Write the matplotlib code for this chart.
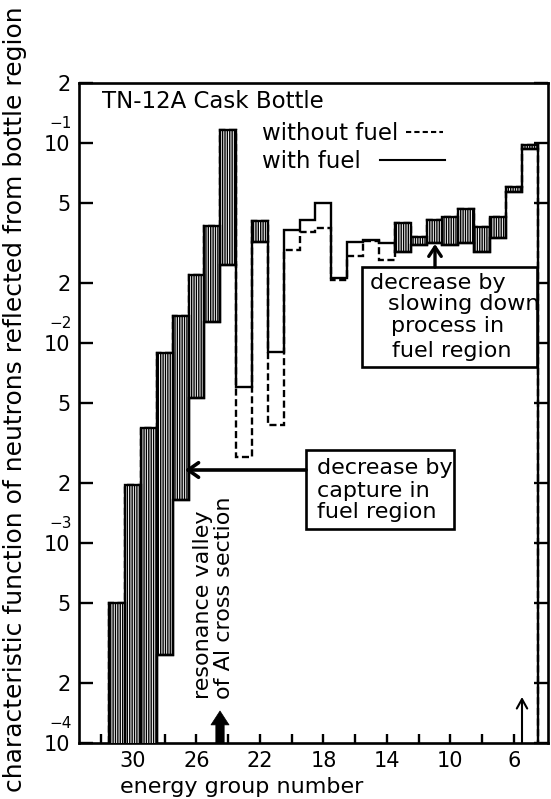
import matplotlib
matplotlib.use('Agg')
import matplotlib.pyplot as plt
import numpy as np
from matplotlib.patches import Rectangle, FancyArrowPatch
from matplotlib.lines import Line2D

# ---------------- data ----------------
groups = list(range(31, 4, -1))          # energy groups 31 ... 5
without_fuel = [5.0e-4, 1.95e-3, 3.75e-3, 8.9e-3, 1.37e-2, 2.2e-2, 3.85e-2, 0.116,
                2.7e-3, 0.0407, 3.9e-3, 0.0292, 0.036, 0.0375, 0.0207, 0.0272,
                0.0324, 0.026, 0.0397, 0.0338, 0.0415, 0.0428, 0.0466, 0.0382,
                0.0425, 0.0605, 0.0977]
with_fuel = [5e-5, 5e-5, 5e-5, 2.75e-4, 1.64e-3, 5.3e-3, 1.27e-2, 2.45e-2,
             6.0e-3, 0.0321, 9.0e-3, 0.0367, 0.0412, 0.05, 0.0211, 0.0321,
             0.0327, 0.0316, 0.0286, 0.0309, 0.0315, 0.0309, 0.0315, 0.0286,
             0.0334, 0.0571, 0.0933]
y_ticks = [1e-4, 2e-4, 5e-4, 1e-3, 2e-3, 5e-3, 1e-2, 2e-2, 5e-2, 1e-1, 2e-1]
y_ticklabels = ['10', '2', '5', '10', '2', '5', '10', '2', '5', '10', '2']
decade_ticks = [1e-4, 1e-3, 1e-2, 1e-1]
decade_exponents = ['−4', '−3', '−2', '−1']
x_ticks = list(range(6, 33, 2))
x_labeled = [30, 26, 22, 18, 14, 10, 6]
x_long_ticks = [10, 20, 30]

plt.rcParams['font.family'] = ['DejaVu Sans']
plt.rcParams['hatch.linewidth'] = 1.0

fig = plt.figure(figsize=(5.51, 7.99), dpi=100)
ax = fig.add_axes([79/551, 1-743/799, (548-79)/551, (743-83)/799])
ax.set_yscale('log')
ax.set_xlim(33.4, 3.85)
ax.set_ylim(1e-4, 2e-1)

g_asc = np.array(groups[::-1])
w_asc = np.array(without_fuel[::-1])
f_asc = np.array(with_fuel[::-1])
edges = np.arange(g_asc.min() - 0.5, g_asc.max() + 1.0, 1.0)

LW = 1.7
# without fuel (dashed)
ax.stairs(w_asc, edges, baseline=1e-6, color='black', lw=LW,
          linestyle=(0, (3.0, 1.5)), zorder=2)
# hatched difference where without > with
mask = w_asc > f_asc
ax.bar(g_asc[mask], (w_asc - f_asc)[mask], bottom=f_asc[mask], width=1.0,
       facecolor='white', edgecolor='black', linewidth=LW, hatch='|||||||',
       zorder=3)
# with fuel (solid)
ax.stairs(f_asc, edges, baseline=1e-6, color='black', lw=LW, zorder=4)

# ---------------- axes styling ----------------
for s in ax.spines.values():
    s.set_linewidth(1.9)
ax.set_yticks(y_ticks)
ax.set_yticklabels(y_ticklabels)
ax.yaxis.set_minor_locator(matplotlib.ticker.NullLocator())
ax.tick_params(axis='y', which='major', direction='in', length=10, width=1.7,
               labelsize=15, pad=6, left=True, right=True)
for val, ex in zip(decade_ticks, decade_exponents):
    ax.annotate(ex, xy=(0, val), xycoords=('axes fraction', 'data'),
                xytext=(-5, 9), textcoords='offset points', ha='right',
                va='bottom', fontsize=11)
ax.set_xticks(x_ticks)
ax.set_xticklabels([str(t) if t in x_labeled else '' for t in x_ticks])
ax.set_xticks(x_long_ticks, minor=True)
ax.tick_params(axis='x', which='major', direction='in', length=6.5, width=1.7,
               labelsize=15, pad=6)
ax.tick_params(axis='x', which='minor', direction='in', length=11.5, width=1.7)

fig.text(242/551, 1-787/799, 'energy group number', fontsize=16,
         ha='center', va='center')
fig.text(15/551, 0.5, 'characteristic function of neutrons reflected from bottle region',
         rotation=90, fontsize=18, ha='center', va='center')

def axp(px, py):
    return ((px - 79) / 469, (743 - py) / 660)

T = ax.transAxes
FS = 16.5
# legend / title text
ax.text(*axp(102, 108.5), 'TN-12A Cask Bottle', transform=T, fontsize=FS,
        ha='left', va='baseline')
ax.text(*axp(262, 140), 'without fuel', transform=T, fontsize=FS,
        ha='left', va='baseline')
ax.text(*axp(262, 168), 'with fuel', transform=T, fontsize=FS,
        ha='left', va='baseline')
x0, y0 = axp(406, 132); x1, _ = axp(443, 132)
ax.add_line(Line2D([x0, x1], [y0, y0], transform=T, color='black', lw=1.5,
                   linestyle=(0, (2.5, 1.5))))
x0, y0 = axp(380, 160); x1, _ = axp(445, 160)
ax.add_line(Line2D([x0, x1], [y0, y0], transform=T, color='black', lw=1.5))

# slowing-down box
FSB = 16
bx0, by0 = axp(362, 367); bx1, by1 = axp(537, 267)
ax.add_patch(Rectangle((bx0, by0), bx1 - bx0, by1 - by0, transform=T,
                       facecolor='white', edgecolor='black', lw=1.9, zorder=5))
for (px, py, s) in [(370, 289, 'decrease by'), (388, 310, 'slowing down'),
                    (391, 332, 'process in'), (392, 357, 'fuel region')]:
    ax.text(*axp(px, py), s, transform=T, fontsize=FSB, ha='left',
            va='baseline', zorder=6)
ax.add_patch(FancyArrowPatch(axp(435, 267), axp(435, 244), transform=T,
                             arrowstyle='->,head_length=0.45,head_width=0.3',
                             mutation_scale=15, lw=2.4, color='black',
                             shrinkA=0, shrinkB=0, zorder=6))

# capture box
bx0, by0 = axp(306, 529); bx1, by1 = axp(454, 450)
ax.add_patch(Rectangle((bx0, by0), bx1 - bx0, by1 - by0, transform=T,
                       facecolor='white', edgecolor='black', lw=1.9, zorder=5))
for (px, py, s) in [(317, 474, 'decrease by'), (317, 497, 'capture in'),
                    (317, 518, 'fuel region')]:
    ax.text(*axp(px, py), s, transform=T, fontsize=FSB, ha='left',
            va='baseline', zorder=6)
ax.add_patch(FancyArrowPatch(axp(306, 470), axp(185, 470), transform=T,
                             arrowstyle='->,head_length=0.5,head_width=0.35',
                             mutation_scale=15, lw=2.6, color='black',
                             shrinkA=0, shrinkB=0, zorder=6))

# resonance valley annotation
ax.text(*axp(203, 699), 'resonance valley', transform=T, fontsize=FSB,
        rotation=90, ha='center', va='bottom')
ax.text(*axp(224, 699), 'of Al cross section', transform=T, fontsize=FSB,
        rotation=90, ha='center', va='bottom')
ax.add_patch(FancyArrowPatch(axp(220, 743), axp(220, 711), transform=T,
                             arrowstyle='simple,head_length=1.0,head_width=1.3,tail_width=0.6',
                             mutation_scale=10, color='black', lw=0.5,
                             shrinkA=0, shrinkB=0, zorder=6, clip_on=False))
# small arrow near group 5
ax.add_patch(FancyArrowPatch(axp(522, 743), axp(522, 697), transform=T,
                             arrowstyle='->,head_length=0.45,head_width=0.25',
                             mutation_scale=15, lw=1.5, color='black',
                             shrinkA=0, shrinkB=0, zorder=6))

fig.savefig('out.png', dpi=100)
